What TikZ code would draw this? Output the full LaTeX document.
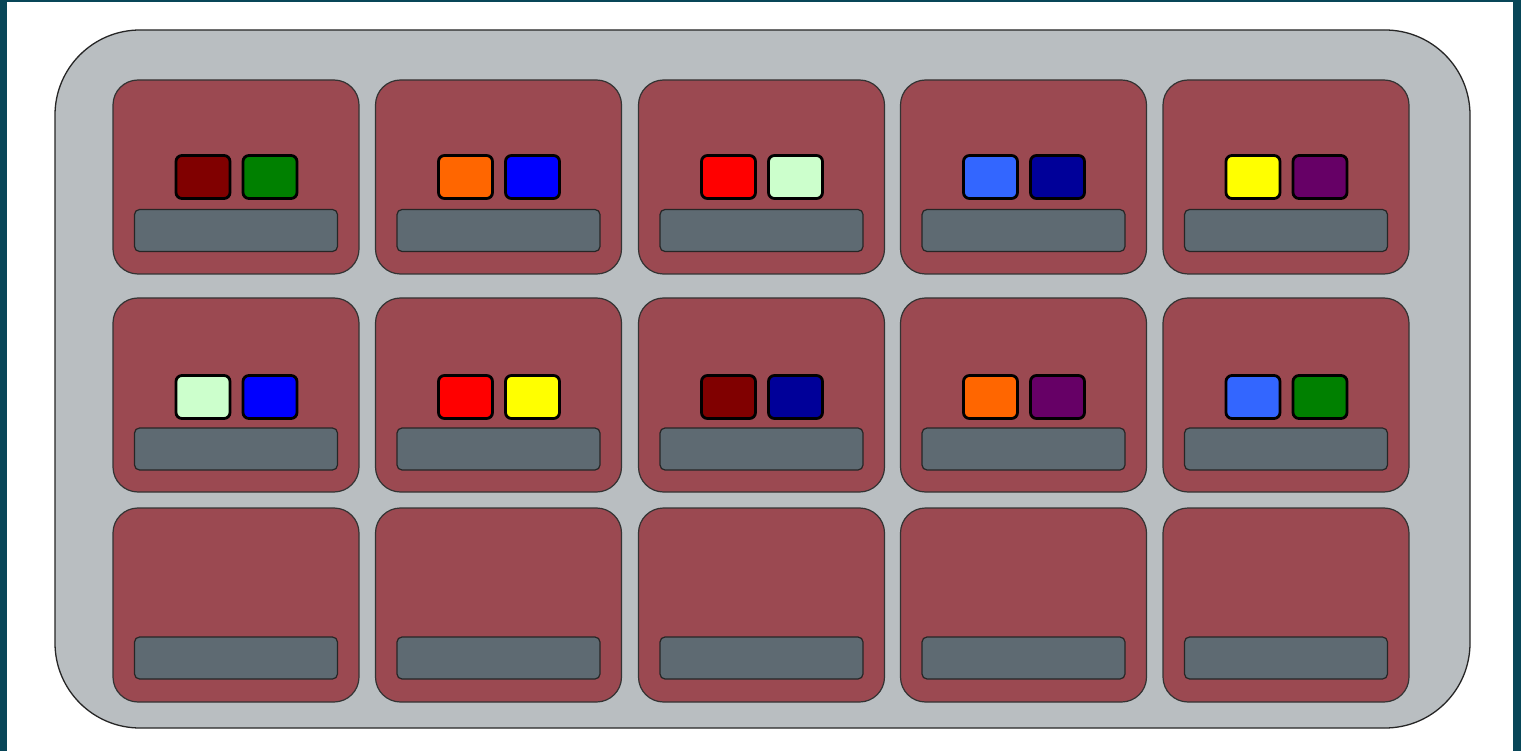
\documentclass[tikz,border=0pt]{standalone}
\usetikzlibrary{calc}
\definecolor{teal0}{RGB}{8,70,88}
\definecolor{traycol}{RGB}{185,190,193}
\definecolor{cellcol}{RGB}{155,73,81}
\definecolor{barcol}{RGB}{94,106,114}
\definecolor{cMaroon}{RGB}{128,0,0}
\definecolor{cGreen}{RGB}{0,128,0}
\definecolor{cOrange}{RGB}{255,102,0}
\definecolor{cBlue}{RGB}{0,0,255}
\definecolor{cRed}{RGB}{255,0,0}
\definecolor{cMint}{RGB}{204,255,204}
\definecolor{cSky}{RGB}{51,102,255}
\definecolor{cNavy}{RGB}{0,0,153}
\definecolor{cYellow}{RGB}{255,255,0}
\definecolor{cPurple}{RGB}{102,0,102}
\tikzset{
  tray/.style={draw=black!85, line width=1.3pt, fill=traycol, rounded corners=85pt},
  cellbox/.style={draw=black!80, line width=1.2pt, fill=cellcol, rounded corners=25pt, inner sep=0pt, outer sep=0pt, minimum width=246pt, minimum height=194pt},
  barbox/.style={draw=black!85, line width=1.2pt, fill=barcol, rounded corners=5pt, inner sep=0pt, outer sep=0pt, minimum width=203pt, minimum height=42pt},
  chip/.style={draw=black, line width=2.8pt, fill=#1, rounded corners=6pt, inner sep=0pt, outer sep=0pt, minimum width=54pt, minimum height=43pt},
}
\begin{document}
\begin{tikzpicture}[x=1pt,y=-1pt]
\useasboundingbox (0,0) rectangle (1521,751);
\fill[teal0] (0,0) rectangle (1521,751);
\fill[white] (7,2) rectangle (1513,751);
\draw[tray] (55,30) rectangle (1470,728);
% cells
\foreach \c/\cx in {1/236, 2/498.5, 3/761.5, 4/1023.5, 5/1286}{
  \foreach \r/\cy/\by in {1/177/230.5, 2/395/449, 3/605/658}{
    \node[cellbox] (cell-\r-\c) at (\cx,\cy) {};
    \node[barbox] (bar-\r-\c) at (\cx,\by) {};
  }
}
% chips row 1 (y=177) and row 2 (y=397)
\foreach \c/\cx/\ca/\cb in {1/236/cMaroon/cGreen, 2/498.5/cOrange/cBlue, 3/761.5/cRed/cMint, 4/1023.5/cSky/cNavy, 5/1286/cYellow/cPurple}{
  \node[chip=\ca] (chipA-1-\c) at (\cx-33,177) {};
  \node[chip=\cb] (chipB-1-\c) at (\cx+34,177) {};
}
\foreach \c/\cx/\ca/\cb in {1/236/cMint/cBlue, 2/498.5/cRed/cYellow, 3/761.5/cMaroon/cNavy, 4/1023.5/cOrange/cPurple, 5/1286/cSky/cGreen}{
  \node[chip=\ca] (chipA-2-\c) at (\cx-33,397) {};
  \node[chip=\cb] (chipB-2-\c) at (\cx+34,397) {};
}
\end{tikzpicture}
\end{document}
